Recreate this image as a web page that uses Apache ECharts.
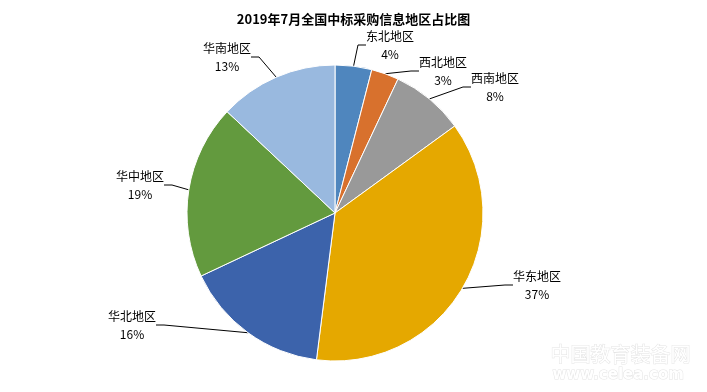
<!DOCTYPE html>
<html><head><meta charset="utf-8">
<script src="https://cdn.jsdelivr.net/npm/echarts@6/dist/echarts.min.js"></script>
<style>html,body{margin:0;padding:0;background:#fff}#c{width:707px;height:392px}</style>
</head><body><div id="c"></div>
<script>
const categories = ['东北地区','西北地区','西南地区','华东地区','华北地区','华中地区','华南地区'];
const values = [4, 3, 8, 37, 16, 19, 13];
const colors = ['#4f86be','#d8712d','#999999','#e5a800','#3c63ab','#639a3e','#99b9df'];
const labelPos = [[390,45],[443,71],[495,87],[537,285],[132,325],[140,185],[227,57]];

const chart = echarts.init(document.getElementById('c'), null, {renderer:'canvas'});
chart.setOption({
  backgroundColor:'#fff',
  animation:false,
  title:{text:'2019年7月全国中标采购信息地区占比图', left:'center', top:8,
    textStyle:{fontFamily:'Noto Sans CJK SC', fontWeight:'bold', fontSize:13, color:'#000'}},
  graphic:[
    {type:'text', left:550, top:344, style:{text:'中国教育装备网', font:'normal 20px "Noto Sans CJK SC"', fill:'#ffffff', stroke:'#e4e4e4', lineWidth:1}},
    {type:'text', left:552, top:367, style:{text:'www.celea.com', font:'bold 15px "DejaVu Sans"', fill:'#ffffff', stroke:'#e4e4e4', lineWidth:1}}
  ],
  series:[{
    type:'pie',
    center:[335,213],
    radius:148,
    startAngle:90,
    clockwise:true,
    data: categories.map((n,i)=>({name:n, value:values[i], itemStyle:{color:colors[i]}})),
    itemStyle:{borderColor:'#fff', borderWidth:1},
    label:{show:true, formatter:p=>p.name+'\n'+p.value+'%', fontFamily:'Noto Sans CJK SC', fontSize:12, color:'#000', lineHeight:18, align:'center'},
    labelLine:{show:true, length:10, length2:8, lineStyle:{color:'#000', width:1}},
    labelLayout:function(p){
      const q = labelPos[p.dataIndex];
      return {x:q[0], y:q[1], align:'center', verticalAlign:'middle'};
    }
  }]
});
</script></body></html>
